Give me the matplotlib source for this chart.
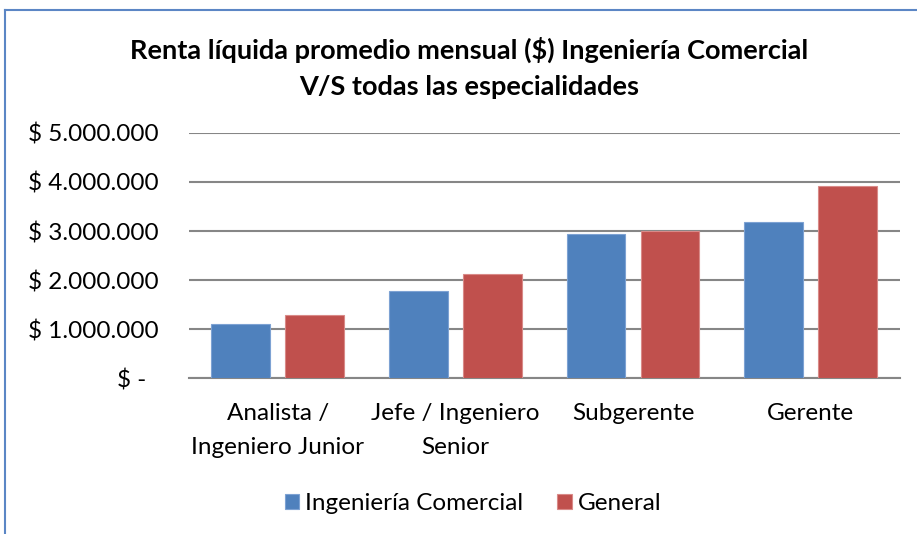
import matplotlib.pyplot as plt
from matplotlib.lines import Line2D
from matplotlib.ticker import FuncFormatter
import numpy as np

# values (CLP per month)
categorias = ["Analista /\nIngeniero Junior", "Jefe / Ingeniero\nSenior",
              "Subgerente", "Gerente"]
ing_comercial = [1110000, 1770000, 2940000, 3190000]
general = [1280000, 2120000, 2990000, 3920000]
series_names = ["Ingeniería Comercial", "General"]

plt.rcParams['font.family'] = ['Lato', 'DejaVu Sans']

fig = plt.figure(figsize=(9.17, 5.34), dpi=100)
ax = fig.add_axes([0.206, 0.292, 0.775, 0.459])

x = np.arange(len(categorias))
w = 0.33
ax.bar(x - 0.208, ing_comercial, w, color='#4F81BD', edgecolor='#7DA2D3',
       linewidth=0.8, label=series_names[0], zorder=3)
ax.bar(x + 0.208, general, w, color='#C0504D', edgecolor='#D98A88',
       linewidth=0.8, label=series_names[1], zorder=3)

ax.set_xlim(-0.5, len(categorias) - 0.5)
ax.set_ylim(0, 5000000)
ax.set_yticks(np.arange(0, 5000001, 1000000))


def money(v, pos):
    if v == 0:
        return "$ -  "
    return "$ " + f"{int(v):,}".replace(",", ".")


ax.yaxis.set_major_formatter(FuncFormatter(money))
ax.grid(axis='y', color='#868686', linewidth=1.5, zorder=0)
for s in ['top', 'right', 'left']:
    ax.spines[s].set_visible(False)
ax.spines['bottom'].set_color('#868686')
ax.spines['bottom'].set_linewidth(1.5)
ax.tick_params(axis='y', length=0, pad=22, labelsize=17.5)

ax.set_xticks(x)
ax.set_xticklabels(categorias, fontsize=17.5, linespacing=1.75)
ax.tick_params(axis='x', length=0, pad=18)

ax.set_title("Renta líquida promedio mensual ($) Ingeniería Comercial\nV/S todas las especialidades",
             fontsize=19.5, fontweight='bold', linespacing=1.62, pad=27,
             x=0.395)

ax.legend(loc='center', bbox_to_anchor=(0.40, -0.512), ncol=2, frameon=False,
          fontsize=17.5, handlelength=0.58, handleheight=0.58,
          handletextpad=0.25, columnspacing=1.4, borderaxespad=0)

# chart frame (blue border, top-left corner visible)
fig.add_artist(Line2D([4.5 / 917, 4.5 / 917], [0, 1 - 9.5 / 534],
                      transform=fig.transFigure, color='#5B86C5', lw=1.5))
fig.add_artist(Line2D([4.5 / 917, 1], [1 - 9.5 / 534, 1 - 9.5 / 534],
                      transform=fig.transFigure, color='#5B86C5', lw=1.5))

fig.savefig("out.png", dpi=100)
